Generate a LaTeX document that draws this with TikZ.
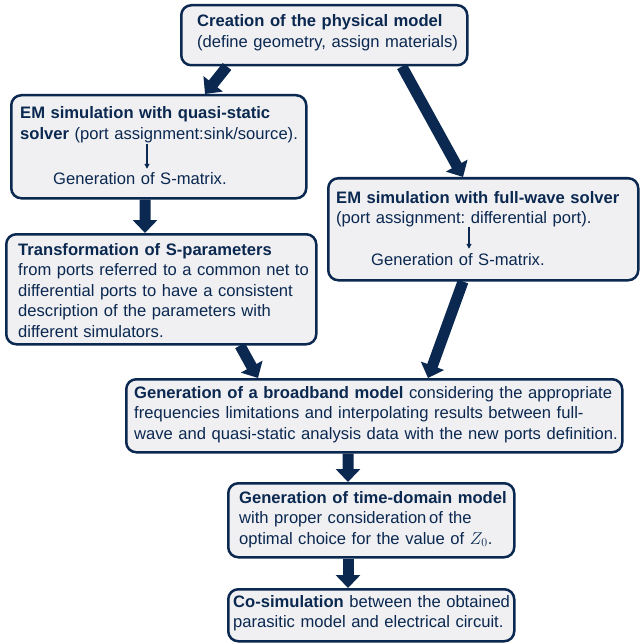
\documentclass[tikz,border=0pt]{standalone}
\usepackage{fontspec}
\setmainfont{Liberation Sans}
\usetikzlibrary{arrows.meta, positioning}
\definecolor{navy}{RGB}{10,40,80}
\definecolor{boxgray}{RGB}{240,240,242}
\frenchspacing

\begin{document}
\begin{tikzpicture}[x=1bp, y=1bp, >={Triangle[width=24bp,length=13bp]}]
    % Styles
    \tikzstyle{block} = [rectangle, draw=navy, fill=boxgray, rounded corners=10bp, line width=2.5bp, anchor=north west, inner sep=0pt]
    \tikzstyle{txt} = [anchor=base west, text width=500bp, align=left, inner xsep=0pt, inner ysep=4bp, text=navy, font=\fontsize{16.6bp}{20.5bp}\selectfont]
    \tikzstyle{line} = [draw=navy, line width=11bp, ->]
    \tikzstyle{tiny} = [draw=navy, line width=1.2bp, -{Triangle[width=5bp,length=5bp]}]

    \useasboundingbox (0,0) rectangle (640,-644);

    % Boxes
    \node (create) [block, minimum width=286bp, minimum height=60bp] at (180,-4) {};
    \node (quasi) [block, minimum width=295bp, minimum height=103bp] at (10,-94) {};
    \node (full) [block, minimum width=310bp, minimum height=102bp] at (327,-177) {};
    \node (trans) [block, minimum width=310bp, minimum height=110bp] at (5,-233) {};
    \node (broad) [block, minimum width=496bp, minimum height=73bp] at (125,-378) {};
    \node (time) [block, minimum width=286bp, minimum height=74bp] at (227,-482) {};
    \node (cosim) [block, minimum width=286bp, minimum height=52bp] at (227,-588) {};

    % Texts
    \node (createtxt) [txt] at (197,-27) {\textbf{Creation of the physical model}\\(define geometry, assign materials)};
    \node (quasitxt) [txt] at (20,-119) {\textbf{EM simulation with quasi-static}\\\textbf{solver} (port assignment:sink/source).};
    \node (quasigen) [txt] at (53,-185) {Generation of S-matrix.};
    \node (fulltxt) [txt] at (336,-203) {\textbf{EM simulation with full-wave solver}\\(port assignment: differential port).};
    \node (fullgen) [txt] at (371,-265) {Generation of S-matrix.};
    \node (transtxt) [txt] at (18,-255) {\textbf{Transformation of S-parameters}\\from ports referred to a common net to\\differential ports to have a consistent\\description of the parameters with\\different simulators.};
    \node (broadtxt) [txt] at (134,-398) {\textbf{Generation of a broadband model} considering the appropriate\\frequencies limitations and interpolating results between full-\\wave and quasi-static analysis data with the new ports definition.};
    \node (timetxt) [txt] at (239,-503) {\textbf{Generation of time-domain model}\\with proper consideration\,of the\\optimal choice for the value of $Z_0$.};
    \node (cosimtxt) [txt] at (233,-607) {\textbf{Co-simulation} between the obtained\\parasitic model and electrical circuit.};

    % Small arrows inside the solver boxes
    \coordinate (quasiport) at (147,-144);
    \coordinate (fullport) at (469,-227);
    \path [tiny] (quasiport) -- (quasiport |- quasigen.north);
    \path [tiny] (fullport) -- (fullport |- fullgen.north);

    % Flow
    \path [line] ([xshift=47bp]create.south west) -- ([xshift=195bp]quasi.north west);
    \path [line] ([xshift=222bp]create.south west) -- ([xshift=136bp]full.north west);
    \path [line] ([xshift=135bp]quasi.south west) -- ([xshift=140bp]trans.north west);
    \path [line] ([xshift=235bp]trans.south west) -- ([xshift=133bp]broad.north west);
    \path [line] ([xshift=136bp]full.south west) -- ([xshift=303bp]broad.north west);
    \path [line] ([xshift=223bp]broad.south west) -- ([xshift=121bp]time.north west);
    \path [line] ([xshift=121bp]time.south west) -- ([xshift=121bp]cosim.north west);
\end{tikzpicture}
\end{document}
